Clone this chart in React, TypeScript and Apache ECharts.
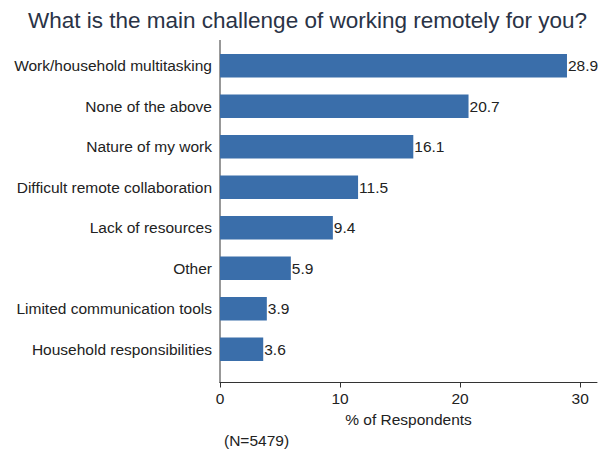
import React, { useEffect, useRef } from "react";
import * as echarts from "echarts";

const categories = [
  "Work/household multitasking",
  "None of the above",
  "Nature of my work",
  "Difficult remote collaboration",
  "Lack of resources",
  "Other",
  "Limited communication tools",
  "Household responsibilities",
];
const values = [28.9, 20.7, 16.1, 11.5, 9.4, 5.9, 3.9, 3.6];
const xTicks = [0, 10, 20, 30];
const titleText = "What is the main challenge of working remotely for you?";
const axisTitle = "% of Respondents";
const noteText = "(N=5479)";

const FONT = "'Liberation Sans', Arial, sans-serif";

export default function App() {
  const ref = useRef<HTMLDivElement>(null);
  useEffect(() => {
    if (!ref.current) return;
    const chart = echarts.init(ref.current, undefined, { renderer: "svg" });
    chart.setOption({
      animation: false,
      backgroundColor: "#ffffff",
      textStyle: { fontFamily: FONT },
      title: {
        text: titleText,
        left: 23,
        top: 4,
        textStyle: { fontFamily: FONT, fontSize: 22.5, fontWeight: "normal", color: "#2a3346" },
      },
      grid: { left: 220, top: 45.4, width: 377, height: 324.1, containLabel: false },
      xAxis: {
        type: "value",
        min: 0,
        max: 31.4,
        interval: 10,
        offset: 13,
        axisLine: { show: true, lineStyle: { color: "#333", width: 1 } },
        axisTick: { show: true, length: 5, customValues: xTicks, lineStyle: { color: "#333" } },
        axisLabel: { customValues: xTicks, fontSize: 15.5, color: "#222", margin: 8, fontFamily: FONT },
        splitLine: { show: false },
        name: axisTitle,
        nameLocation: "middle",
        nameGap: 27,
        nameTextStyle: { fontSize: 15.5, color: "#222", fontFamily: FONT },
      },
      yAxis: {
        type: "category",
        data: categories,
        inverse: true,
        axisLine: { show: false },
        axisTick: { show: false },
        axisLabel: { fontSize: 15.5, color: "#222", margin: 8, fontFamily: FONT },
      },
      graphic: [
        {
          type: "line",
          shape: { x1: 220, y1: 40, x2: 220, y2: 383 },
          style: { stroke: "#333", lineWidth: 1 },
        },
        {
          type: "text",
          left: 224,
          top: 432,
          style: { text: noteText, fontSize: 15.5, fill: "#222", fontFamily: FONT },
        },
      ],
      series: [
        {
          type: "bar",
          data: values,
          barWidth: 23.5,
          itemStyle: { color: "#3a6eaa" },
          label: {
            show: true,
            position: "right",
            distance: 1,
            fontSize: 15.5,
            color: "#222",
            fontFamily: FONT,
            formatter: (p: any) => p.value.toFixed(1),
          },
        },
      ],
    });
    return () => chart.dispose();
  }, []);
  return <div ref={ref} style={{ position: "absolute", left: 0, top: 0, width: 611, height: 451 }} />;
}
